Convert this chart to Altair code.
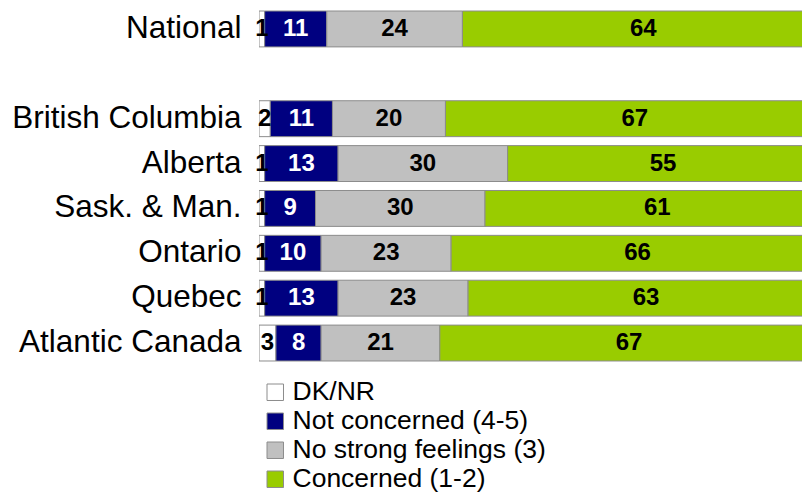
import altair as alt
import pandas as pd

regions = ["National", "British Columbia", "Alberta", "Sask. & Man.", "Ontario", "Quebec", "Atlantic Canada"]
y_domain = ["National", " ", "British Columbia", "Alberta", "Sask. & Man.", "Ontario", "Quebec", "Atlantic Canada"]
categories = ["DK/NR", "Not concerned (4-5)", "No strong feelings (3)", "Concerned (1-2)"]
colors = ["#FFFFFF", "#000080", "#C0C0C0", "#99CC00"]

dk_nr = [1, 2, 1, 1, 1, 1, 3]
not_concerned = [11, 11, 13, 9, 10, 13, 8]
no_strong = [24, 20, 30, 30, 23, 23, 21]
concerned = [64, 67, 55, 61, 66, 63, 67]

series = [dk_nr, not_concerned, no_strong, concerned]
rows = []
for ci, (cat, vals) in enumerate(zip(categories, series)):
    for r, v in zip(regions, vals):
        rows.append({"region": r, "cat": cat, "order": ci, "value": v})
df = pd.DataFrame(rows)

FONT = "Liberation Sans"

base = alt.Chart(df).transform_stack(
    stack="value", groupby=["region"], sort=[alt.SortField("order")], as_=["x0", "x1"]
).transform_calculate(mid="(datum.x0 + datum.x1) / 2")

yscale = alt.Scale(domain=y_domain, paddingInner=0.2, paddingOuter=0.067)
yenc = alt.Y(
    "region:N",
    scale=yscale,
    axis=alt.Axis(title=None, domain=False, ticks=False, grid=False, labelFontSize=31.5, labelFont=FONT,
                  labelColor="black", labelPadding=18, labelLimit=400),
)
xscale = alt.Scale(domain=[0, 96.1], nice=False, zero=True)

bars = base.mark_bar(stroke="#8C8C8C", strokeWidth=1, clip=True).encode(
    x=alt.X("x0:Q", scale=xscale, axis=None),
    x2="x1:Q",
    y=yenc,
    color=alt.Color(
        "cat:N",
        scale=alt.Scale(domain=categories, range=colors),
        legend=alt.Legend(
            title=None, orient="none", legendX=3, legendY=371, direction="vertical",
            labelFontSize=26.5, labelFont=FONT, labelColor="black", symbolType="square",
            symbolSize=272, symbolStrokeColor="#8C8C8C", symbolStrokeWidth=1,
            labelOffset=4, rowPadding=2, padding=0, symbolOpacity=1, labelLimit=500,
        ),
    ),
)

labels = base.mark_text(fontSize=24, fontWeight="bold", font=FONT, baseline="middle", align="center").encode(
    x=alt.X("mid:Q", scale=xscale),
    y=alt.Y("region:N", scale=yscale),
    text=alt.Text("value:Q"),
    color=alt.condition(alt.datum.cat == "Not concerned (4-5)", alt.value("white"), alt.value("black")),
)

chart = alt.layer(bars, labels).properties(
    width=543, height=356,
    background="white",
    autosize=alt.AutoSizeParams(type="none"),
    padding={"left": 251, "top": 0, "right": 0, "bottom": 128},
).configure_view(stroke=None)

chart.save("out.html", embed_options={"renderer": "svg", "actions": False})
